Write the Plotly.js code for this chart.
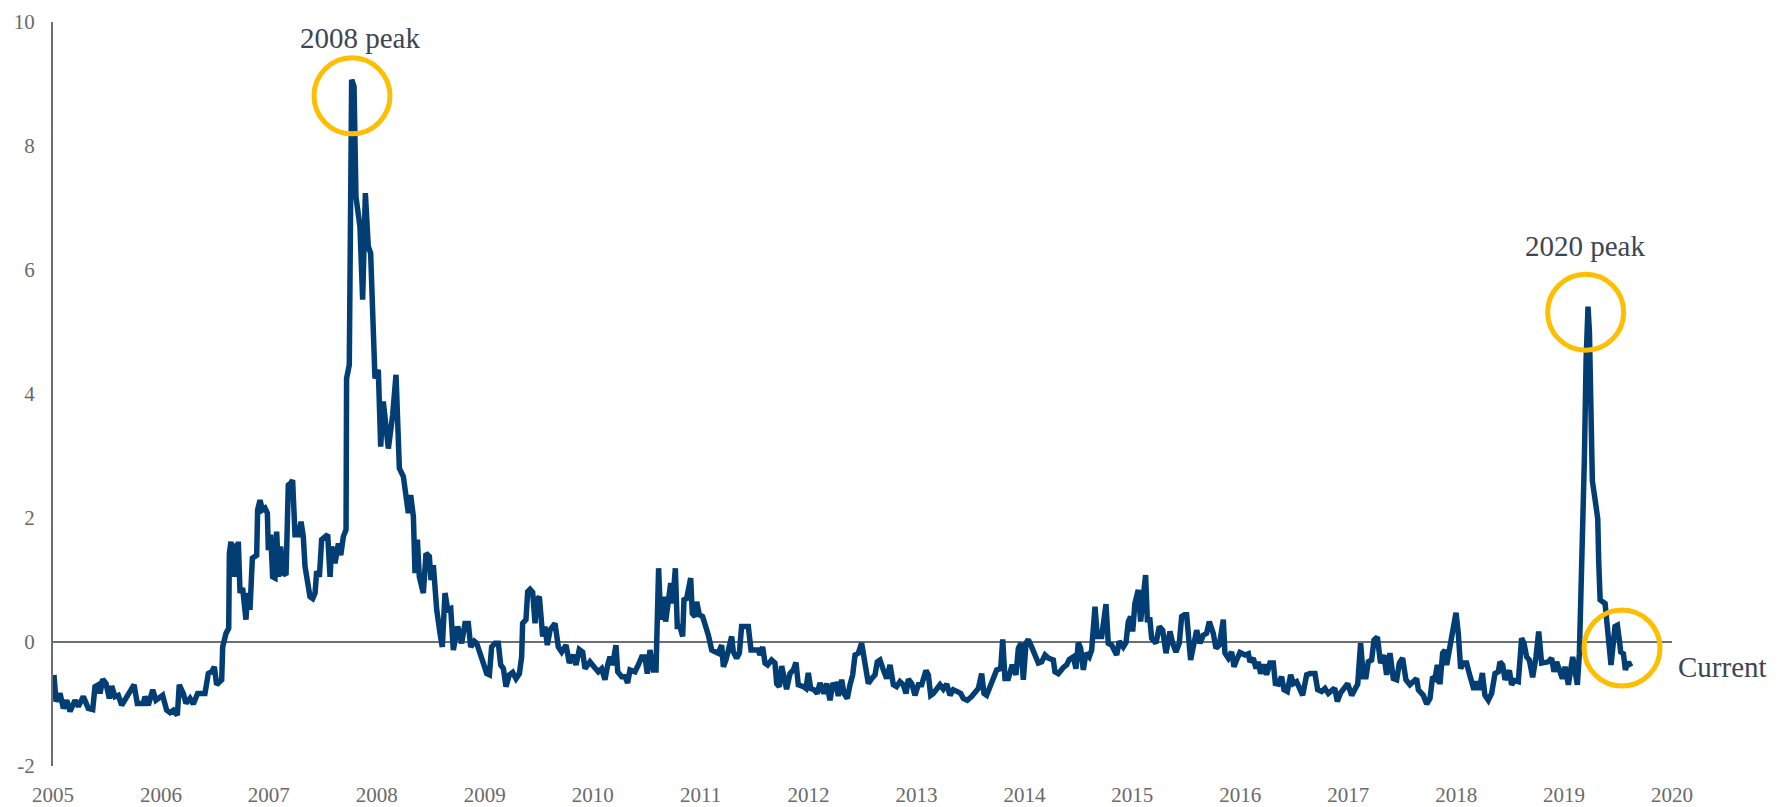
<!DOCTYPE html>
<html>
<head>
<meta charset="utf-8">
<script src="https://cdn.plot.ly/plotly-3.0.1.min.js"></script>
<style>
  html, body { margin: 0; padding: 0; background: #ffffff; }
  #chart { width: 1784px; height: 807px; }
</style>
</head>
<body>
<div id="chart"></div>
<script>
// ---- Data (x in decimal years) ----
const years2005_2007 = [
  2005.009, 2005.028, 2005.065, 2005.096, 2005.127, 2005.158, 2005.204, 2005.235, 2005.281, 2005.327,
  2005.368, 2005.389, 2005.420, 2005.436, 2005.460, 2005.491, 2005.522, 2005.544, 2005.574, 2005.605,
  2005.636, 2005.683, 2005.713, 2005.751, 2005.781, 2005.837, 2005.852, 2005.883, 2005.924, 2005.954,
  2006.016, 2006.053, 2006.084, 2006.115, 2006.152, 2006.170, 2006.207, 2006.232, 2006.269, 2006.300,
  2006.340, 2006.377, 2006.408, 2006.439, 2006.470, 2006.495, 2006.516, 2006.563, 2006.572, 2006.603,
  2006.628, 2006.634, 2006.649, 2006.665, 2006.680, 2006.696, 2006.717, 2006.733, 2006.757, 2006.788,
  2006.801, 2006.825, 2006.847, 2006.887, 2006.896, 2006.918, 2006.940, 2006.964, 2006.986, 2006.995,
  2007.017, 2007.035, 2007.057, 2007.072, 2007.091, 2007.109, 2007.134, 2007.159, 2007.180, 2007.202,
  2007.220, 2007.242, 2007.273, 2007.298, 2007.319, 2007.335, 2007.360, 2007.381, 2007.406, 2007.428,
  2007.443, 2007.468, 2007.489, 2007.514, 2007.545, 2007.567, 2007.582, 2007.613, 2007.644, 2007.666,
  2007.690, 2007.715
];
const values2005_2007 = [
  -0.53, -0.96, -0.83, -1.07, -0.94, -1.12, -0.94, -1.04, -0.88, -1.07,
  -1.09, -0.72, -0.69, -0.83, -0.60, -0.67, -0.91, -0.71, -0.88, -0.86,
  -1.02, -0.86, -0.80, -0.69, -0.99, -0.99, -0.88, -1.02, -0.77, -0.94,
  -0.86, -1.10, -1.14, -1.10, -1.18, -0.69, -0.83, -0.99, -0.91, -1.00,
  -0.83, -0.83, -0.83, -0.51, -0.48, -0.40, -0.69, -0.61, -0.08, 0.14,
  0.22, 1.43, 1.62, 1.05, 1.59, 1.05, 1.62, 0.79, 0.87, 0.36,
  0.79, 0.52, 1.35, 1.40, 2.13, 2.29, 2.13, 2.16, 2.08, 1.48,
  1.73, 1.05, 1.03, 1.78, 1.05, 1.54, 1.11, 1.08, 2.53, 2.56,
  2.61, 1.73, 1.73, 1.94, 1.70, 1.22, 0.95, 0.73, 0.70, 0.79,
  1.14, 1.05, 1.65, 1.70, 1.73, 1.05, 1.54, 1.27, 1.59, 1.40,
  1.70, 1.81
];

const years2008Peak = [
  2007.720, 2007.745, 2007.767, 2007.789, 2007.807, 2007.844, 2007.869, 2007.894, 2007.921, 2007.943,
  2007.983, 2008.014, 2008.036, 2008.060, 2008.107, 2008.147, 2008.178
];
const values2008Peak = [
  4.25, 4.47, 9.07, 8.96, 7.18, 6.70, 5.52, 7.24, 6.38, 6.27,
  4.25, 4.39, 3.15, 3.88, 3.12, 3.66, 4.31
];

const years2008_2009 = [
  2008.209, 2008.246, 2008.292, 2008.314, 2008.339, 2008.354, 2008.376, 2008.394, 2008.431, 2008.456,
  2008.487, 2008.502, 2008.524, 2008.555, 2008.586, 2008.607, 2008.632, 2008.657, 2008.685, 2008.709,
  2008.749, 2008.786, 2008.817, 2008.848, 2008.870, 2008.904, 2008.925, 2008.962, 2008.987, 2009.018,
  2009.043, 2009.064, 2009.095, 2009.126, 2009.148, 2009.173, 2009.197, 2009.228, 2009.259, 2009.290,
  2009.321, 2009.342, 2009.351, 2009.382, 2009.398, 2009.420, 2009.444, 2009.466, 2009.481, 2009.506
];
const values2008_2009 = [
  2.80, 2.67, 2.08, 2.37, 2.02, 1.11, 1.65, 1.05, 0.79, 1.43,
  1.38, 1.00, 1.24, 0.52, 0.14, -0.08, 0.79, 0.52, 0.54, -0.13,
  0.25, -0.02, 0.30, 0.30, -0.08, 0.01, -0.02, -0.18, -0.34, -0.51,
  -0.53, -0.08, -0.02, -0.02, -0.37, -0.43, -0.72, -0.53, -0.49, -0.59,
  -0.51, -0.24, 0.30, 0.36, 0.81, 0.85, 0.80, 0.30, 0.68, 0.73
];

const years2009_2014 = [
  2009.537, 2009.558, 2009.580, 2009.605, 2009.651, 2009.682, 2009.713, 2009.753, 2009.784, 2009.821,
  2009.846, 2009.876, 2009.907, 2009.929, 2009.975, 2010.012, 2010.052, 2010.083, 2010.114, 2010.139,
  2010.161, 2010.185, 2010.216, 2010.232, 2010.269, 2010.300, 2010.324, 2010.346, 2010.392, 2010.423,
  2010.454, 2010.485, 2010.506, 2010.531, 2010.562, 2010.587, 2010.611, 2010.630, 2010.655, 2010.676,
  2010.701, 2010.723, 2010.741, 2010.766, 2010.784, 2010.809, 2010.834, 2010.846, 2010.871, 2010.908,
  2010.923, 2010.948, 2010.964, 2010.988, 2011.019, 2011.041, 2011.072, 2011.103, 2011.133, 2011.164,
  2011.195, 2011.211, 2011.235, 2011.257, 2011.288, 2011.303, 2011.334, 2011.359, 2011.380, 2011.411,
  2011.442, 2011.467, 2011.504, 2011.535, 2011.550, 2011.575, 2011.597, 2011.621, 2011.658, 2011.689,
  2011.705, 2011.729, 2011.751, 2011.797, 2011.828, 2011.859, 2011.884, 2011.905, 2011.952, 2011.976,
  2011.998, 2012.020, 2012.051, 2012.081, 2012.106, 2012.143, 2012.168, 2012.199, 2012.224, 2012.254,
  2012.276, 2012.307, 2012.329, 2012.359, 2012.384, 2012.409, 2012.431, 2012.461, 2012.492, 2012.523,
  2012.554, 2012.585, 2012.616, 2012.637, 2012.662, 2012.693, 2012.724, 2012.755, 2012.786, 2012.816,
  2012.847, 2012.878, 2012.903, 2012.925, 2012.956, 2012.986, 2013.017, 2013.048, 2013.088, 2013.110,
  2013.132, 2013.156, 2013.187, 2013.218, 2013.249, 2013.280, 2013.311, 2013.341, 2013.379, 2013.410,
  2013.434, 2013.471, 2013.511, 2013.542, 2013.573, 2013.604, 2013.626, 2013.650, 2013.681, 2013.712,
  2013.743, 2013.780, 2013.799, 2013.820, 2013.851, 2013.882, 2013.897, 2013.922, 2013.944, 2013.968,
  2013.990, 2014.015, 2014.036, 2014.067, 2014.098, 2014.129, 2014.160, 2014.191, 2014.222
];
const values2009_2014 = [
  0.09, 0.25, -0.05, 0.19, 0.30, -0.08, -0.16, -0.05, -0.34, -0.21,
  -0.37, -0.12, -0.16, -0.43, -0.32, -0.40, -0.48, -0.43, -0.61, -0.37,
  -0.24, -0.37, -0.05, -0.48, -0.56, -0.56, -0.66, -0.45, -0.48, -0.37,
  -0.24, -0.24, -0.51, -0.13, -0.45, -0.45, 1.19, 0.36, 0.73, 0.33,
  0.62, 0.95, 0.62, 1.19, 0.25, 0.25, 0.09, 0.68, 0.70, 1.03,
  0.46, 0.41, 0.65, 0.44, 0.41, 0.30, 0.11, -0.13, -0.16, -0.18,
  -0.05, -0.40, -0.29, -0.16, 0.09, -0.16, -0.26, -0.18, 0.25, 0.25,
  0.25, -0.13, -0.13, -0.13, -0.21, -0.08, -0.34, -0.37, -0.29, -0.34,
  -0.67, -0.72, -0.39, -0.76, -0.51, -0.45, -0.33, -0.69, -0.72, -0.75,
  -0.50, -0.75, -0.77, -0.83, -0.66, -0.83, -0.67, -0.94, -0.69, -0.68,
  -0.87, -0.61, -0.83, -0.91, -0.69, -0.53, -0.21, -0.18, -0.02, -0.32,
  -0.67, -0.59, -0.53, -0.32, -0.29, -0.45, -0.59, -0.37, -0.69, -0.72,
  -0.64, -0.69, -0.83, -0.60, -0.67, -0.86, -0.69, -0.69, -0.46, -0.53,
  -0.86, -0.83, -0.77, -0.69, -0.76, -0.68, -0.86, -0.77, -0.80, -0.83,
  -0.91, -0.94, -0.88, -0.80, -0.75, -0.51, -0.83, -0.86, -0.72, -0.61,
  -0.45, -0.43, 0.04, -0.59, -0.59, -0.40, -0.40, -0.53, -0.10, -0.02,
  -0.61, -0.02, 0.04, -0.08, -0.24, -0.34, -0.32, -0.21, -0.26
];

const years2014_2019 = [
  2014.268, 2014.283, 2014.314, 2014.361, 2014.391, 2014.416, 2014.453, 2014.478, 2014.499, 2014.521,
  2014.546, 2014.571, 2014.601, 2014.623, 2014.654, 2014.676, 2014.716, 2014.756, 2014.777, 2014.808,
  2014.855, 2014.879, 2014.916, 2014.941, 2014.963, 2014.984, 2015.003, 2015.024, 2015.055, 2015.077,
  2015.102, 2015.123, 2015.139, 2015.163, 2015.179, 2015.219, 2015.250, 2015.281, 2015.312, 2015.349,
  2015.374, 2015.404, 2015.435, 2015.457, 2015.482, 2015.503, 2015.540, 2015.565, 2015.596, 2015.627,
  2015.658, 2015.688, 2015.713, 2015.750, 2015.775, 2015.806, 2015.843, 2015.858, 2015.889, 2015.920,
  2015.942, 2015.966, 2015.997, 2016.044, 2016.075, 2016.090, 2016.121, 2016.146, 2016.167, 2016.189,
  2016.220, 2016.244, 2016.275, 2016.306, 2016.325, 2016.353, 2016.383, 2016.405, 2016.436, 2016.467,
  2016.492, 2016.522, 2016.547, 2016.578, 2016.615, 2016.646, 2016.692, 2016.717, 2016.754, 2016.785,
  2016.816, 2016.862, 2016.878, 2016.899, 2016.930, 2016.955, 2016.995, 2017.032, 2017.063, 2017.088,
  2017.115, 2017.140, 2017.165, 2017.186, 2017.217, 2017.239, 2017.270, 2017.300, 2017.331, 2017.356,
  2017.387, 2017.418, 2017.449, 2017.474, 2017.504, 2017.535, 2017.572, 2017.603, 2017.634, 2017.650,
  2017.681, 2017.696, 2017.727, 2017.758, 2017.782, 2017.804, 2017.826, 2017.850, 2017.875, 2017.897,
  2017.912, 2017.937, 2017.958, 2017.974, 2017.999, 2018.020, 2018.042, 2018.067, 2018.097, 2018.122,
  2018.144, 2018.165, 2018.190, 2018.215, 2018.243, 2018.267, 2018.298, 2018.329, 2018.360, 2018.391,
  2018.406, 2018.431, 2018.453, 2018.493, 2018.514, 2018.539, 2018.576, 2018.607, 2018.629, 2018.653,
  2018.678, 2018.709, 2018.740, 2018.765, 2018.792, 2018.823, 2018.854, 2018.885, 2018.907, 2018.931,
  2018.962, 2018.984, 2019.009, 2019.040
];
const values2014_2019 = [
  -0.29, -0.48, -0.51, -0.41, -0.37, -0.28, -0.24, -0.43, -0.01, -0.10,
  -0.45, -0.18, -0.24, -0.13, 0.57, 0.09, 0.09, 0.61, -0.02, -0.05,
  -0.21, 0.01, -0.08, -0.01, 0.33, 0.41, 0.17, 0.62, 0.84, 0.33,
  0.84, 1.08, 0.36, 0.36, 0.06, -0.02, 0.25, 0.19, -0.18, 0.17,
  -0.02, -0.16, -0.02, 0.41, 0.44, 0.44, -0.29, -0.05, 0.19, -0.02,
  0.11, 0.14, 0.33, 0.14, -0.10, -0.05, 0.36, -0.18, -0.26, -0.16,
  -0.40, -0.29, -0.17, -0.21, -0.19, -0.32, -0.26, -0.43, -0.32, -0.51,
  -0.36, -0.53, -0.34, -0.34, -0.67, -0.68, -0.56, -0.77, -0.80, -0.53,
  -0.67, -0.64, -0.75, -0.86, -0.53, -0.51, -0.51, -0.77, -0.80, -0.75,
  -0.83, -0.76, -0.77, -0.96, -0.82, -0.75, -0.67, -0.86, -0.77, -0.68,
  -0.02, -0.56, -0.56, -0.32, -0.29, 0.03, 0.08, -0.34, -0.21, -0.53,
  -0.18, -0.59, -0.61, -0.34, -0.26, -0.61, -0.69, -0.64, -0.59, -0.77,
  -0.83, -0.86, -1.00, -0.91, -0.56, -0.59, -0.37, -0.68, -0.18, -0.13,
  -0.37, -0.10, 0.01, 0.27, 0.47, 0.14, -0.43, -0.34, -0.34, -0.51,
  -0.68, -0.77, -0.64, -0.77, -0.50, -0.86, -0.94, -0.83, -0.51, -0.48,
  -0.32, -0.37, -0.61, -0.46, -0.69, -0.62, -0.64, 0.06, -0.02, -0.24,
  -0.29, -0.57, -0.24, 0.17, -0.34, -0.34, -0.32, -0.26, -0.48, -0.32,
  -0.48, -0.59, -0.40, -0.69
];

const years2019_2020 = [
  2019.080, 2019.102, 2019.123, 2019.142, 2019.167, 2019.188, 2019.204, 2019.222, 2019.235, 2019.262,
  2019.287, 2019.312, 2019.321, 2019.334, 2019.380, 2019.411, 2019.435, 2019.472, 2019.494, 2019.512,
  2019.525, 2019.550, 2019.568, 2019.596, 2019.618
];
const values2019_2020 = [
  -0.24, -0.51, -0.69, -0.18, 1.16, 2.94, 4.55, 5.41, 5.00, 2.60,
  2.30, 1.99, 1.30, 0.68, 0.62, 0.03, -0.37, 0.25, 0.27, 0.03,
  -0.16, -0.19, -0.45, -0.32, -0.40
];

const xTickVals = [2005, 2006, 2007, 2008, 2009, 2010, 2011, 2012, 2013, 2014, 2015, 2016, 2017, 2018, 2019, 2020];
const xTickText = ['2005', '2006', '2007', '2008', '2009', '2010', '2011', '2012', '2013', '2014', '2015', '2016', '2017', '2018', '2019', '2020'];
const yTickVals = [-2, 0, 2, 4, 6, 8, 10];
const yTickText = ['-2', '0', '2', '4', '6', '8', '10'];

// Annotated labels and highlighted circles
const labelTexts = ['2008 peak', '2020 peak', 'Current'];
const labelX = [2007.84, 2019.194, 2020];
const labelXShift = [0, 0, 50];
const labelY = [9.75, 6.39, -0.40];
const circleX = [2007.77, 2019.20, 2019.537];
const circleY = [8.81, 5.32, -0.097];

// ---- Build ----
const xs = [].concat(years2005_2007, years2008Peak, years2008_2009, years2009_2014, years2014_2019, years2019_2020);
const ys = [].concat(values2005_2007, values2008Peak, values2008_2009, values2009_2014, values2014_2019, values2019_2020);

const FONT = '"Liberation Serif", "DejaVu Serif", serif';
const LINE_COLOR = '#023e73';
const CIRCLE_COLOR = '#ffbf00';
const AXIS_COLOR = '#6b6f75';

const trace = {
  x: xs, y: ys, type: 'scatter', mode: 'lines',
  line: { color: LINE_COLOR, width: 5.5, shape: 'linear' },
  hoverinfo: 'skip', showlegend: false
};

const R = 38;
const shapes = circleX.map((cx, i) => ({
  type: 'circle', xref: 'x', yref: 'y',
  xsizemode: 'pixel', ysizemode: 'pixel',
  xanchor: cx, yanchor: circleY[i],
  x0: -R, x1: R, y0: -R, y1: R,
  line: { color: CIRCLE_COLOR, width: 5 },
  fillcolor: 'rgba(0,0,0,0)', layer: 'above'
}));

const annotations = labelTexts.map((t, i) => ({
  text: t, x: labelX[i], y: labelY[i], xref: 'x', yref: 'y',
  xshift: labelXShift[i],
  showarrow: false, xanchor: 'center', yanchor: 'middle',
  font: { family: FONT, size: 29, color: '#3d4651' }
}));

const layout = {
  width: 1784, height: 807,
  margin: { l: 53, r: 112, t: 22, b: 41, pad: 0 },
  paper_bgcolor: '#ffffff', plot_bgcolor: '#ffffff',
  showlegend: false,
  xaxis: {
    range: [2005, 2020], tickmode: 'array', tickvals: xTickVals, ticktext: xTickText,
    showgrid: false, zeroline: false, showline: false, ticks: '',
    tickfont: { family: FONT, size: 21, color: '#6a6a6a' },
    ticklabelstandoff: 14
  },
  yaxis: {
    range: [-2, 10], tickmode: 'array', tickvals: yTickVals, ticktext: yTickText,
    showgrid: false, zeroline: true, zerolinecolor: AXIS_COLOR, zerolinewidth: 2,
    showline: true, linecolor: AXIS_COLOR, linewidth: 2, ticks: '',
    tickfont: { family: FONT, size: 21, color: '#6a6a6a' },
    ticklabelstandoff: 12
  },
  shapes: shapes,
  annotations: annotations
};

Plotly.newPlot('chart', [trace], layout, { displayModeBar: false, staticPlot: true });
</script>
</body>
</html>
